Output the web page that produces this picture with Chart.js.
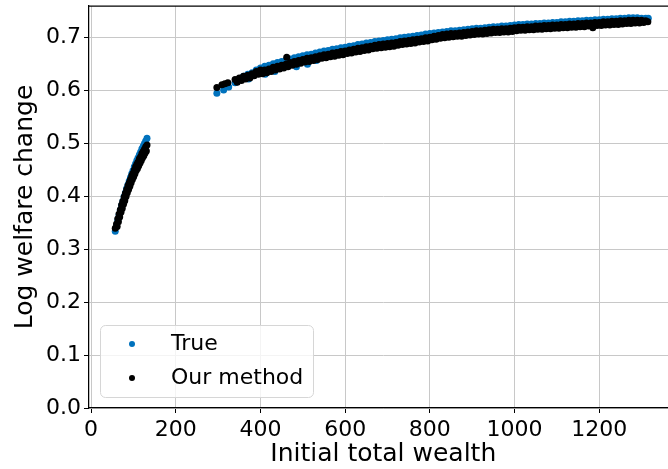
<!DOCTYPE html>
<html>
<head>
<meta charset="utf-8">
<script src="https://cdn.jsdelivr.net/npm/chart.js@4"></script>
<style>
  html, body { margin: 0; padding: 0; background: #fff; overflow: hidden; }
  #wrap { width: 668px; height: 469px; overflow: hidden; }
  #chart { width: 681px; height: 469px; }
</style>
</head>
<body>
<div id="wrap"><div id="chart"><canvas id="myChart"></canvas></div></div>
<script>
// tick labels
const xTicks = [0, 200, 400, 600, 800, 1000, 1200]
const yTicks = [0, 0.1, 0.2, 0.3, 0.4, 0.5, 0.6, 0.7]

// "True", low-wealth group
const trueLowX = [57, 60, 63, 66, 69, 72, 75, 78, 81, 84, 87, 90, 93, 96, 99, 102, 105, 108, 111, 114, 117, 120, 123, 126, 129, 132]
const trueLowY = [0.334, 0.345, 0.355, 0.365, 0.374, 0.383, 0.391, 0.400, 0.407, 0.415, 0.422, 0.429, 0.436, 0.443, 0.449, 0.456, 0.462, 0.468, 0.473, 0.479, 0.484, 0.490, 0.495, 0.500, 0.505, 0.510]

// "True", high-wealth group
const trueHighX = [297, 313, 325, 340, 350, 360, 370, 380, 390, 400, 410, 420, 430, 440, 450, 460, 470, 480, 490, 500, 510, 520, 530, 540, 550, 560, 570, 580, 590, 600, 610, 620, 630, 640, 650, 660, 670, 680, 690, 700, 710, 720, 730, 740, 750, 760, 770, 780, 790, 800, 810, 820, 830, 840, 850, 860, 870, 880, 890, 900, 910, 920, 930, 940, 950, 960, 970, 980, 990, 1000, 1010, 1020, 1030, 1040, 1050, 1060, 1070, 1080, 1090, 1100, 1110, 1120, 1130, 1140, 1150, 1160, 1170, 1180, 1190, 1200, 1210, 1220, 1230, 1240, 1250, 1260, 1270, 1280, 1290, 1300, 1310, 1316, 372, 411, 434, 485, 511, 532]
const trueHighY = [0.595, 0.601, 0.607, 0.615, 0.621, 0.627, 0.631, 0.634, 0.639, 0.643, 0.646, 0.648, 0.651, 0.653, 0.655, 0.657, 0.660, 0.662, 0.664, 0.666, 0.668, 0.669, 0.671, 0.673, 0.675, 0.676, 0.678, 0.679, 0.681, 0.682, 0.684, 0.685, 0.687, 0.688, 0.690, 0.691, 0.693, 0.694, 0.695, 0.696, 0.697, 0.698, 0.700, 0.701, 0.702, 0.703, 0.704, 0.705, 0.707, 0.708, 0.709, 0.710, 0.711, 0.712, 0.713, 0.713, 0.714, 0.715, 0.716, 0.717, 0.718, 0.718, 0.719, 0.720, 0.721, 0.721, 0.722, 0.722, 0.723, 0.724, 0.725, 0.725, 0.726, 0.726, 0.727, 0.727, 0.728, 0.728, 0.729, 0.729, 0.730, 0.730, 0.731, 0.731, 0.732, 0.732, 0.733, 0.733, 0.734, 0.734, 0.735, 0.735, 0.736, 0.736, 0.737, 0.737, 0.738, 0.738, 0.738, 0.737, 0.737, 0.737, 0.622, 0.631, 0.636, 0.645, 0.650, 0.657]

// "Our method", low-wealth group (upper and lower edge of the band)
const oursLowX = [57, 60, 63, 66, 69, 72, 75, 78, 81, 84, 87, 90, 93, 96, 99, 102, 105, 108, 111, 114, 117, 120, 123, 126, 129, 132, 61.5, 64.5, 67.5, 70.5, 73.5, 76.5, 79.5, 82.5, 85.5, 88.5, 91.5, 94.5, 97.5, 100.5, 103.5, 106.5, 109.5, 112.5, 115.5, 118.5, 121.5, 124.5, 127.5, 130.5]
const oursLowY = [0.340, 0.348, 0.358, 0.367, 0.375, 0.384, 0.391, 0.399, 0.406, 0.413, 0.420, 0.426, 0.432, 0.439, 0.444, 0.450, 0.456, 0.461, 0.465, 0.471, 0.475, 0.481, 0.485, 0.489, 0.494, 0.497, 0.343, 0.352, 0.361, 0.370, 0.377, 0.385, 0.392, 0.400, 0.407, 0.413, 0.419, 0.426, 0.432, 0.437, 0.443, 0.449, 0.453, 0.458, 0.463, 0.468, 0.473, 0.477, 0.482, 0.486]

// "Our method", high-wealth group, upper edge of the band
const oursHighX = [297, 309, 316, 323, 462, 340, 350, 360, 370, 380, 390, 400, 410, 420, 430, 440, 450, 460, 470, 480, 490, 500, 510, 520, 530, 540, 550, 560, 570, 580, 590, 600, 610, 620, 630, 640, 650, 660, 670, 680, 690, 700, 710, 720, 730, 740, 750, 760, 770, 780, 790, 800, 810, 820, 830, 840, 850, 860, 870, 880, 890, 900, 910, 920, 930, 940, 950, 960, 970, 980, 990, 1000, 1010, 1020, 1030, 1040, 1050, 1060, 1070, 1080, 1090, 1100, 1110, 1120, 1130, 1140, 1150, 1160, 1170, 1180, 1190, 1200, 1210, 1220, 1230, 1240, 1250, 1260, 1270, 1280, 1290, 1300, 1310]
const oursHighY = [0.606, 0.611, 0.613, 0.615, 0.663, 0.621, 0.624, 0.627, 0.629, 0.632, 0.636, 0.639, 0.639, 0.641, 0.644, 0.646, 0.648, 0.650, 0.653, 0.655, 0.657, 0.659, 0.661, 0.662, 0.664, 0.666, 0.668, 0.669, 0.671, 0.672, 0.674, 0.675, 0.677, 0.678, 0.680, 0.681, 0.683, 0.684, 0.686, 0.687, 0.688, 0.689, 0.690, 0.691, 0.693, 0.694, 0.695, 0.696, 0.697, 0.698, 0.700, 0.701, 0.703, 0.704, 0.706, 0.707, 0.708, 0.708, 0.709, 0.710, 0.711, 0.712, 0.713, 0.713, 0.714, 0.715, 0.716, 0.716, 0.717, 0.717, 0.718, 0.719, 0.720, 0.720, 0.721, 0.721, 0.722, 0.722, 0.723, 0.723, 0.724, 0.724, 0.725, 0.725, 0.726, 0.726, 0.727, 0.727, 0.728, 0.728, 0.729, 0.729, 0.730, 0.730, 0.731, 0.731, 0.732, 0.732, 0.733, 0.733, 0.733, 0.733, 0.732]

// "Our method", high-wealth group, lower edge of the band
const oursHighLowerX = [345, 355, 365, 375, 385, 395, 405, 415, 425, 435, 445, 455, 465, 475, 485, 495, 505, 515, 525, 535, 545, 555, 565, 575, 585, 595, 605, 615, 625, 635, 645, 655, 665, 675, 685, 695, 705, 715, 725, 735, 745, 755, 765, 775, 785, 795, 805, 815, 825, 835, 845, 855, 865, 875, 885, 895, 905, 915, 925, 935, 945, 955, 965, 975, 985, 995, 1005, 1015, 1025, 1035, 1045, 1055, 1065, 1075, 1085, 1095, 1105, 1115, 1125, 1135, 1145, 1155, 1165, 1175, 1185, 1195, 1205, 1215, 1225, 1235, 1245, 1255, 1265, 1275, 1285, 1295, 1305, 1315]
const oursHighLowerY = [0.616, 0.619, 0.622, 0.624, 0.628, 0.631, 0.632, 0.634, 0.636, 0.639, 0.641, 0.643, 0.645, 0.648, 0.650, 0.652, 0.654, 0.655, 0.657, 0.659, 0.661, 0.662, 0.664, 0.665, 0.667, 0.668, 0.670, 0.671, 0.673, 0.674, 0.676, 0.677, 0.679, 0.680, 0.681, 0.682, 0.683, 0.684, 0.686, 0.687, 0.688, 0.689, 0.690, 0.692, 0.693, 0.694, 0.696, 0.697, 0.699, 0.700, 0.701, 0.702, 0.703, 0.703, 0.704, 0.705, 0.706, 0.707, 0.707, 0.708, 0.709, 0.710, 0.710, 0.711, 0.711, 0.712, 0.713, 0.714, 0.714, 0.715, 0.715, 0.716, 0.716, 0.717, 0.717, 0.718, 0.718, 0.719, 0.719, 0.720, 0.720, 0.721, 0.721, 0.722, 0.719, 0.723, 0.723, 0.724, 0.724, 0.725, 0.725, 0.726, 0.727, 0.727, 0.728, 0.728, 0.729, 0.730]

const toPoints = ( xs, ys ) => xs.map( ( x, i ) => ( { x: x, y: ys[i] } ) )

const trueData = toPoints( trueLowX, trueLowY ).concat( toPoints( trueHighX, trueHighY ) )
const oursData = toPoints( oursLowX, oursLowY )
  .concat( toPoints( oursHighX, oursHighY ) )
  .concat( toPoints( oursHighLowerX, oursHighLowerY ) )

const FONT = 'DejaVu Sans'

// top spine and the legend box inside the axes
const framePlugin = {
  id: 'frame',
  afterDraw: ( chart ) => {
    const ctx = chart.ctx
    const area = chart.chartArea
    ctx.save()
    ctx.strokeStyle = '#000'
    ctx.lineWidth = 1.25
    ctx.beginPath()
    ctx.moveTo( area.left, area.top )
    ctx.lineTo( area.right, area.top )
    ctx.stroke()

    ctx.beginPath()
    ctx.roundRect( 100.5, 325.5, 213, 72, 5 )
    ctx.fillStyle = 'rgba(255,255,255,0.8)'
    ctx.fill()
    ctx.strokeStyle = '#d6d6d6'
    ctx.lineWidth = 1
    ctx.stroke()

    ctx.font = '22px "' + FONT + '"'
    ctx.textBaseline = 'middle'
    ctx.textAlign = 'left'
    chart.data.datasets.forEach( ( ds, i ) => {
      const y = 344 + i * 34
      ctx.fillStyle = ds.backgroundColor
      ctx.beginPath()
      ctx.arc( 132, y, 3, 0, Math.PI * 2 )
      ctx.fill()
      ctx.fillStyle = '#000'
      ctx.fillText( ds.label, 171, y )
    } )
    ctx.restore()
  }
}

const config = {
  type: 'scatter',
  data: {
    datasets: [
      {
        label: 'True',
        data: trueData,
        backgroundColor: '#0072BD',
        borderWidth: 0,
        pointRadius: 3.5,
        pointHoverRadius: 3.5,
        order: 2 // drawn first, under "Our method"
      },
      {
        label: 'Our method',
        data: oursData,
        backgroundColor: '#000000',
        borderWidth: 0,
        pointRadius: 3.5,
        pointHoverRadius: 3.5,
        order: 1
      }
    ]
  },
  options: {
    responsive: true,
    maintainAspectRatio: false,
    animation: false,
    layout: { padding: { top: 6, right: 0, left: 0, bottom: 0 } },
    plugins: {
      legend: { display: false },
      tooltip: { enabled: false }
    },
    scales: {
      x: {
        type: 'linear',
        min: -5,
        max: 1385,
        afterBuildTicks: ( scale ) => { scale.ticks = xTicks.map( ( v ) => ( { value: v } ) ) },
        afterFit: ( scale ) => {
          scale.height = 61
          scale.paddingLeft = 0
          scale.paddingRight = 0
        },
        grid: { color: '#c8c8c8', lineWidth: 1, tickColor: '#000', tickLength: 5 },
        border: { color: '#000', width: 1.25 },
        ticks: {
          color: '#000',
          padding: 4,
          maxRotation: 0,
          font: { family: FONT, size: 22 },
          callback: ( v ) => String( v )
        },
        title: {
          display: true,
          text: 'Initial total wealth',
          color: '#000',
          font: { family: FONT, size: 25 },
          padding: { top: 0, bottom: 0 }
        }
      },
      y: {
        type: 'linear',
        min: 0,
        max: 0.76,
        afterBuildTicks: ( scale ) => { scale.ticks = yTicks.map( ( v ) => ( { value: v } ) ) },
        afterFit: ( scale ) => {
          scale.width = 89
          scale.paddingTop = 0
          scale.paddingBottom = 0
        },
        grid: { color: '#c8c8c8', lineWidth: 1, tickColor: '#000', tickLength: 5 },
        border: { color: '#000', width: 1.25 },
        ticks: {
          color: '#000',
          padding: 3,
          font: { family: FONT, size: 22 },
          callback: ( v ) => v.toFixed( 1 )
        },
        title: {
          display: true,
          text: 'Log welfare change',
          color: '#000',
          font: { family: FONT, size: 25 },
          padding: { top: 10, bottom: 0 }
        }
      }
    }
  },
  plugins: [framePlugin]
}

new Chart( document.getElementById( 'myChart' ), config )
</script>
</body>
</html>
